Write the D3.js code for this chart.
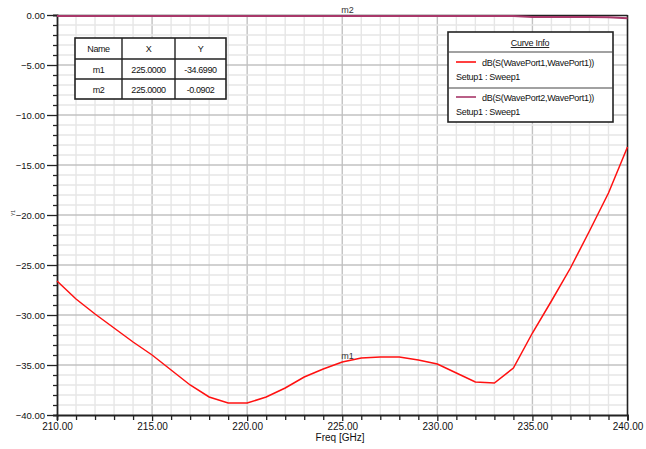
<!DOCTYPE html>
<html><head><meta charset="utf-8">
<script src="https://cdn.jsdelivr.net/npm/d3@7"></script>
<style>body{margin:0;background:#fff}svg{display:block;font-family:"Liberation Sans",Arial,sans-serif}</style>
</head><body><div id="chart"></div>
<script>
const freqs = [210,211,212,213,214,215,216,217,218,219,220,221,222,223,224,225,226,227,228,229,230,231,232,233,234,235,236,237,238,239,240];
const s11 = [-26.6,-28.4,-29.9,-31.3,-32.7,-34.0,-35.5,-37.0,-38.2,-38.8,-38.8,-38.2,-37.3,-36.2,-35.4,-34.7,-34.3,-34.2,-34.2,-34.5,-34.9,-35.8,-36.7,-36.8,-35.3,-31.8,-28.6,-25.3,-21.6,-17.8,-13.2];
const s21 = [-0.09,-0.09,-0.09,-0.09,-0.09,-0.09,-0.09,-0.09,-0.09,-0.09,-0.09,-0.09,-0.09,-0.09,-0.09,-0.09,-0.09,-0.09,-0.09,-0.09,-0.09,-0.09,-0.09,-0.09,-0.09,-0.2,-0.2,-0.2,-0.2,-0.22,-0.33];
const xTicks = [210,215,220,225,230,235,240];
const yTicks = [0,-5,-10,-15,-20,-25,-30,-35,-40];
const seriesNames = ["dB(S(WavePort1,WavePort1))","dB(S(WavePort2,WavePort1))"];
const setupName = "Setup1 : Sweep1";
const tableHeader = ["Name","X","Y"];
const tableRows = [["m1","225.0000","-34.6990"],["m2","225.0000","-0.0902"]];
const markerFreq = 225;

const W=646,H=449;
const svg=d3.select("#chart").append("svg").attr("width",W).attr("height",H);
const x=d3.scaleLinear().domain([210,240]).range([57,627.5]);
const y=d3.scaleLinear().domain([-40,0]).range([415,15]);
const red="#ff1010", purple="#a8386a", ink="#111";

// grid
const g=svg.append("g");
g.selectAll(".vmin").data(d3.range(211,240)).join("line")
 .attr("x1",d=>x(d)).attr("x2",d=>x(d)).attr("y1",y(0)).attr("y2",y(-40))
 .attr("stroke",d=>d%5===0?"#c2c2c2":"#e6e6e6").attr("stroke-width",1.4);
g.selectAll(".hmin").data(d3.range(-39,0)).join("line")
 .attr("y1",d=>y(d)).attr("y2",d=>y(d)).attr("x1",x(210)).attr("x2",x(240))
 .attr("stroke",d=>d%5===0?"#c2c2c2":"#e6e6e6").attr("stroke-width",1.4);

// frame top/right
svg.append("line").attr("x1",x(210)).attr("x2",x(240)).attr("y1",y(0)+0.5).attr("y2",y(0)+0.5).attr("stroke","#222").attr("stroke-width",1.6);
svg.append("line").attr("x1",x(240)).attr("x2",x(240)).attr("y1",y(0)).attr("y2",y(-40)).attr("stroke","#222").attr("stroke-width",1.6);

// axes
const xAxis=d3.axisBottom(x).tickValues(d3.range(210,241)).tickSize(5).tickFormat(d=>xTicks.includes(d)?d3.format(".2f")(d):"");
const xa=svg.append("g").attr("transform",`translate(0,${y(-40)})`).call(xAxis);
xa.select(".domain").attr("stroke","#222").attr("stroke-width",1.8);
xa.selectAll(".tick line").attr("stroke","#222").attr("stroke-width",1.3).attr("y2",d=>xTicks.includes(d)?6:5);
xa.selectAll(".tick text").attr("font-size",10).attr("fill",ink).attr("y",8).attr("font-family","Liberation Sans, Arial, sans-serif");

const yAxis=d3.axisLeft(y).tickValues(d3.range(-40,1)).tickSize(4).tickFormat(d=>yTicks.includes(d)?d3.format(".2f")(d):"");
const ya=svg.append("g").attr("transform",`translate(${x(210)},0)`).call(yAxis);
ya.select(".domain").attr("stroke","#222").attr("stroke-width",1.8);
ya.selectAll(".tick line").attr("stroke","#222").attr("stroke-width",1.3).attr("x2",d=>yTicks.includes(d)?-10:-4);
ya.selectAll(".tick text").attr("font-size",9.5).attr("fill",ink).attr("x",-12).attr("font-family","Liberation Sans, Arial, sans-serif");

// lines
const line=d3.line().x((d,i)=>x(freqs[i])).y(d=>y(d));
svg.append("path").datum(s21).attr("d",line).attr("fill","none").attr("stroke",purple).attr("stroke-width",2);
svg.append("path").datum(s11).attr("d",line).attr("fill","none").attr("stroke",red).attr("stroke-width",1.5);

// marker labels
const mi=freqs.indexOf(markerFreq);
svg.append("text").attr("x",x(markerFreq)-1).attr("y",y(s21[mi])-3).attr("font-size",9).attr("fill","#333").text("m2");
svg.append("text").attr("x",x(markerFreq)-1).attr("y",y(s11[mi])-3).attr("font-size",9).attr("fill","#333").text("m1");

// axis titles
svg.append("text").attr("x",340).attr("y",441).attr("text-anchor","middle").attr("font-size",10).attr("fill",ink).text("Freq [GHz]");
svg.append("text").attr("transform","translate(15,213) rotate(-90)").attr("text-anchor","middle").attr("font-size",5).attr("fill","#333").text("Y1");

// marker table
const tx=[75,122,175,226], ty=[38,59,79,99];
const tb=svg.append("g");
tb.append("rect").attr("x",tx[0]).attr("y",ty[0]).attr("width",tx[3]-tx[0]).attr("height",ty[3]-ty[0]).attr("fill","#fff").attr("stroke","#222").attr("stroke-width",1.6);
[tx[1],tx[2]].forEach(v=>tb.append("line").attr("x1",v).attr("x2",v).attr("y1",ty[0]).attr("y2",ty[3]).attr("stroke","#222").attr("stroke-width",1.4));
[ty[1],ty[2]].forEach(v=>tb.append("line").attr("y1",v).attr("y2",v).attr("x1",tx[0]).attr("x2",tx[3]).attr("stroke","#222").attr("stroke-width",1.4));
[tableHeader,...tableRows].forEach((row,r)=>row.forEach((t,c)=>{
  tb.append("text").attr("x",(tx[c]+tx[c+1])/2).attr("y",(ty[r]+ty[r+1])/2+3.5).attr("text-anchor","middle").attr("font-size",9).attr("letter-spacing",-0.4).attr("fill",ink).text(t);
}));

// legend
const lg=svg.append("g");
lg.append("rect").attr("x",448).attr("y",32).attr("width",165).attr("height",90).attr("fill","#fff").attr("stroke","#222").attr("stroke-width",1.6);
lg.append("text").attr("x",530).attr("y",46).attr("text-anchor","middle").attr("font-size",9).attr("fill",ink).attr("text-decoration","underline").attr("letter-spacing",-0.3).text("Curve Info");
[52,88].forEach(v=>lg.append("line").attr("x1",448).attr("x2",613).attr("y1",v).attr("y2",v).attr("stroke","#444").attr("stroke-width",1.2));
[[62,red],[97,purple]].forEach(([yy,col],i)=>{
  lg.append("line").attr("x1",456).attr("x2",476).attr("y1",yy).attr("y2",yy).attr("stroke",col).attr("stroke-width",1.6);
  lg.append("text").attr("x",482).attr("y",yy+3.5).attr("font-size",9).attr("letter-spacing",-0.3).attr("fill",ink).text(seriesNames[i]);
  lg.append("text").attr("x",456).attr("y",yy+18).attr("font-size",9).attr("letter-spacing",-0.3).attr("fill",ink).text(setupName);
});
</script></body></html>
